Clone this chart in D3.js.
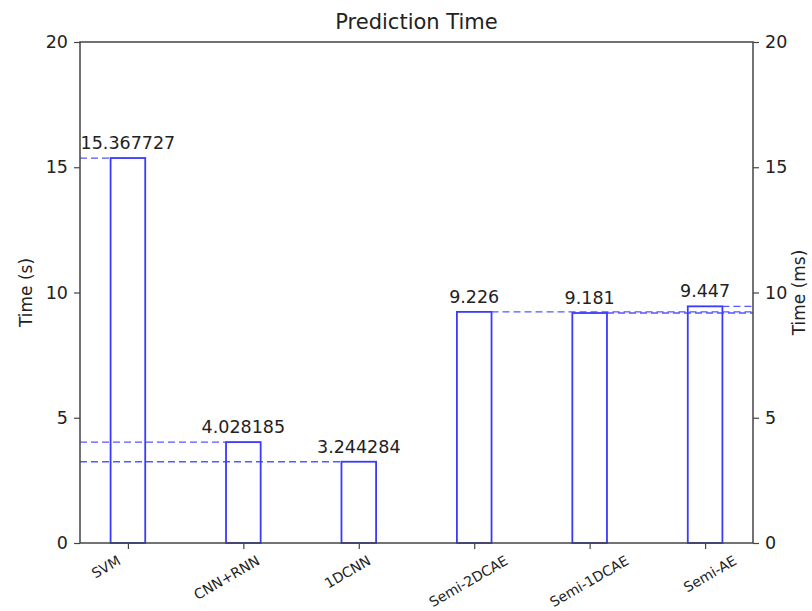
<!DOCTYPE html>
<html>
<head>
<meta charset="utf-8">
<script src="https://cdn.jsdelivr.net/npm/d3@7"></script>
<style>
  body { margin: 0; background: #fff; }
  text { font-family: "DejaVu Sans", sans-serif; fill: #222; }
</style>
</head>
<body>
<div id="draw"></div>
<script>
var models = ['SVM', 'CNN+RNN', '1DCNN', 'Semi-2DCAE', 'Semi-1DCAE', 'Semi-AE'];
var times = [15.367727, 4.028185, 3.244284, 9.226, 9.181, 9.447];
var labels = ['15.367727', '4.028185', '3.244284', '9.226', '9.181', '9.447'];
// which side the reference line goes to: left axis (s) or right axis (ms)
var side = ['left', 'left', 'left', 'right', 'right', 'right'];
var yTicks = [0, 5, 10, 15, 20];

var W = 812, H = 611;
var m = {left: 80, right: 59, top: 42, bottom: 68};
var pw = W - m.left - m.right;
var ph = H - m.top - m.bottom;
var bw = 0.3; // bar width in category units

var svg = d3.select('#draw').append('svg')
  .attr('width', W).attr('height', H);

var x = d3.scaleLinear()
  .domain([-bw/2 - 0.265, models.length - 1 + bw/2 + 0.265])
  .range([m.left, m.left + pw]);
var y = d3.scaleLinear().domain([0, 20]).range([m.top + ph, m.top]);
// tick labels sit a little off their ticks in the original, drifting right
var xl = d3.scaleLinear().domain([0, models.length - 1])
  .range([x(0) - 22, x(models.length - 1) + 5]);

var blue = '#3a3aff';

// dashed reference lines
svg.selectAll('line.ref')
  .data(times)
  .enter().append('line')
  .attr('class', 'ref')
  .attr('x1', function(d, i) { return side[i] === 'left' ? x.range()[0] : x(i + bw/2); })
  .attr('x2', function(d, i) { return side[i] === 'left' ? x(i - bw/2) : x.range()[1]; })
  .attr('y1', function(d) { return y(d); })
  .attr('y2', function(d) { return y(d); })
  .attr('stroke', blue)
  .attr('stroke-opacity', 0.85)
  .attr('stroke-width', 1.3)
  .attr('stroke-dasharray', '7,4');

// bars (outline only)
svg.selectAll('rect.bar')
  .data(times)
  .enter().append('rect')
  .attr('class', 'bar')
  .attr('x', function(d, i) { return x(i - bw/2); })
  .attr('y', function(d) { return y(d); })
  .attr('width', function(d, i) { return x(i + bw/2) - x(i - bw/2); })
  .attr('height', function(d) { return y(0) - y(d); })
  .attr('fill', 'none')
  .attr('stroke', blue)
  .attr('stroke-width', 1.8);

// value labels
svg.selectAll('text.val')
  .data(times)
  .enter().append('text')
  .attr('class', 'val')
  .attr('x', function(d, i) { return x(i); })
  .attr('y', function(d) { return y(d) - 9; })
  .attr('text-anchor', 'middle')
  .attr('font-size', 17.5)
  .text(function(d, i) { return labels[i]; });

// axes
var axL = d3.axisLeft(y).tickValues(yTicks).tickSize(6).tickPadding(6);
var axR = d3.axisRight(y).tickValues(yTicks).tickSize(6).tickPadding(6);
var axB = d3.axisBottom(x).tickValues(d3.range(models.length))
  .tickFormat('').tickSize(6);

function styleAxis(g) {
  g.select('.domain').remove();
  g.selectAll('.tick line').attr('stroke', '#444').attr('stroke-width', 1.2);
  g.selectAll('.tick text').attr('fill', '#222').attr('font-family', '"DejaVu Sans", sans-serif');
}

svg.append('g').attr('transform', 'translate(' + m.left + ',0)').call(axL)
  .call(styleAxis).selectAll('.tick text').attr('font-size', 17.5);
svg.append('g').attr('transform', 'translate(' + (m.left + pw) + ',0)').call(axR)
  .call(styleAxis).selectAll('.tick text').attr('font-size', 17.5);
svg.append('g').attr('transform', 'translate(0,' + (m.top + ph) + ')').call(axB)
  .call(styleAxis);

// rotated category labels, centred on their spot
var xt = svg.selectAll('text.xt')
  .data(models)
  .enter().append('text')
  .attr('class', 'xt')
  .attr('font-size', 14)
  .attr('text-anchor', 'middle')
  .attr('dy', '0.35em')
  .text(function(d) { return d; });
xt.attr('transform', function(d, i) {
  var len = this.getComputedTextLength();
  var hb = len * 0.5 + 10 * 0.866; // rotated box height
  return 'translate(' + xl(i) + ',' + (555 + hb / 2) + ') rotate(-30)';
});

// frame
svg.append('rect')
  .attr('x', m.left).attr('y', m.top)
  .attr('width', pw).attr('height', ph)
  .attr('fill', 'none').attr('stroke', '#444').attr('stroke-width', 1.5);

// title and axis labels
svg.append('text')
  .attr('x', m.left + pw/2).attr('y', 29)
  .attr('text-anchor', 'middle').attr('font-size', 21)
  .text('Prediction Time');

svg.append('text')
  .attr('transform', 'translate(32,' + (m.top + ph/2) + ') rotate(-90)')
  .attr('text-anchor', 'middle').attr('font-size', 17)
  .text('Time (s)');

svg.append('text')
  .attr('transform', 'translate(805,' + (m.top + ph/2) + ') rotate(-90)')
  .attr('text-anchor', 'middle').attr('font-size', 17)
  .text('Time (ms)');
</script>
</body>
</html>
